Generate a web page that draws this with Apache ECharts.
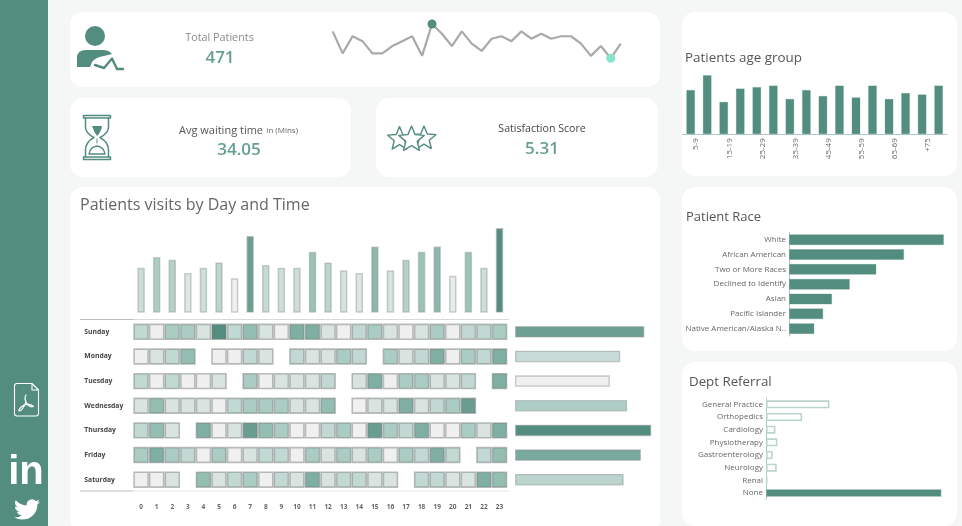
<!DOCTYPE html>
<html><head><meta charset="utf-8">
<style>html,body{margin:0;padding:0;background:#f5f7f6}#c{width:962px;height:526px}#wrap{position:relative;width:962px;height:526px;overflow:hidden}#icons{position:absolute;left:0;top:0;pointer-events:none}</style>
<script src="https://cdn.jsdelivr.net/npm/echarts@6/dist/echarts.min.js"></script>
</head><body><div id="wrap"><div id="c"></div>
<svg id="icons" width="962" height="526" viewBox="0 0 962 526" fill="none" stroke-linejoin="round" stroke-linecap="round">
  <circle cx="95" cy="36" r="10" fill="#538d7f"/>
  <path d="M77 67 L77 58 Q77 50 86 50 L103 50 Q109 50 112 54 L104 56 Q96 57 92 62 L90 67 Z" fill="#538d7f"/>
  <path d="M95 65 L104 68 L112 58.5 L117 69 L123 69" stroke="#538d7f" stroke-width="2.4"/>
  <path d="M83.5 115.5 L110.5 115.5 L110.5 118 L83.5 118 Z M83.5 157 L110.5 157 L110.5 159.5 L83.5 159.5 Z" stroke="#538d7f" stroke-width="1.5"/>
  <path d="M85.5 118 L85.5 127 Q85.5 133 94 137.5 Q85.5 142 85.5 150 L85.5 157 M108.5 118 L108.5 127 Q108.5 133 100 137.5 Q108.5 142 108.5 150 L108.5 157" stroke="#538d7f" stroke-width="1.5"/>
  <path d="M92 126 L102 126 Q101 132 97 136 Q94 132 92 126 Z" fill="#538d7f"/>
  <path d="M89 154 Q90 147 97 146 Q104 147 105 154 Z" stroke="#538d7f" stroke-width="1.4"/>
  <path d="M97 139 L97 143" stroke="#538d7f"/>
  <path d="M17 383.5 L32 383.5 L38.5 390 L38.5 413.5 Q38.5 416 36 416 L17 416 Q14.5 416 14.5 413.5 L14.5 386 Q14.5 383.5 17 383.5 Z M32 383.5 L32 390 L38.5 390" stroke="#fff" stroke-width="1.1"/>
  <path d="M26 395 Q24 398 26 402 Q29 408 33.5 406.5 Q30 403 24 405 Q18.5 408.5 19 411 Q22 411.5 26 402" stroke="#fff" stroke-width="1.2"/>
  <path transform="translate(14 497) scale(1.083 1.04)" fill="#fff" d="M23.953 4.57a10 10 0 01-2.825.775 4.958 4.958 0 002.163-2.723c-.951.555-2.005.959-3.127 1.184a4.92 4.92 0 00-8.384 4.482C7.69 8.095 4.067 6.13 1.64 3.162a4.822 4.822 0 00-.666 2.475c0 1.71.87 3.213 2.188 4.096a4.904 4.904 0 01-2.228-.616v.06a4.923 4.923 0 003.946 4.827 4.996 4.996 0 01-2.212.085 4.936 4.936 0 004.604 3.417 9.867 9.867 0 01-6.102 2.105c-.39 0-.779-.023-1.17-.067a13.995 13.995 0 007.557 2.209c9.053 0 13.998-7.496 13.998-13.985 0-.21 0-.42-.015-.63A9.935 9.935 0 0024 4.59z"/>
</svg></div>
<script>
const hours = ['0','1','2','3','4','5','6','7','8','9','10','11','12','13','14','15','16','17','18','19','20','21','22','23'];
const days = ['Sunday','Monday','Tuesday','Wednesday','Thursday','Friday','Saturday'];
const hourTotals = [17,21,20,15,17,19,13,29,18,17,17,23,19,16,15,25,16,20,23,25,14,23,17,32];
const dayTotals = [75,61,55,65,79,73,63];
const sunday    = [3,1,4,4,2,8,3,5,2,1,6,6,2,1,3,4,2,1,2,4,1,3,3,4];
const monday    = [1,2,3,5,0,1,1,3,2,0,3,2,2,4,3,0,4,2,3,6,1,4,3,6];
const tuesday   = [3,1,3,1,1,2,0,4,1,2,2,2,3,0,2,6,1,4,4,2,2,3,0,6];
const wednesday = [2,5,2,2,2,1,3,4,4,4,2,2,5,0,1,2,2,6,2,3,4,7,0,0];
const thursday  = [3,5,2,0,6,1,2,7,5,4,1,1,3,4,1,7,4,3,6,1,1,4,2,6];
const friday    = [4,6,4,3,1,4,1,2,3,3,1,4,2,4,2,4,1,4,3,6,3,0,3,5];
const saturday  = [1,1,2,0,5,2,3,4,1,3,2,6,2,3,3,2,2,0,3,3,2,2,6,5];
const dailyPatients = [20,11,18,16,11,11,14,16,18,10,23,19,14,20,15,12,17,18,16,20,17,19,17,18,18,15,10,14,9,15];
const ageGroups = ['5-9','10-14','15-19','20-24','25-29','30-34','35-39','40-44','45-49','50-54','55-59','60-64','65-69','70-74','+75','+80'];
const ageValues = [30,40,22,31,32,33,24,30,26,33,25,33,24,28,27,33];
const races = ['White','African American','Two or More Races','Declined to Identify','Asian','Pacific Islander','Native American/Alaska N..'];
const raceValues = [140,104,79,55,39,31,23];
const depts = ['General Practice','Orthopedics','Cardiology','Physiotherapy','Gastroenterology','Neurology','Renal','None'];
const deptValues = [95,54,14,17,10,16,2,263];

const GREEN = '#538d7f', KPI = '#659f90', FONT = '"Open Sans", Lato, sans-serif';
const heatRows = [sunday,monday,tuesday,wednesday,thursday,friday,saturday];
const heatData = [];
heatRows.forEach((row,d)=>row.forEach((v,h)=>{ if(v>0) heatData.push([h,d,v]); }));

function card(x,y,w,h){return {type:'rect',z:0,shape:{x,y,width:w,height:h,r:13},style:{fill:'#fff'},silent:true};}
function txt(x,y,text,size,fill,opt){return {type:'text',z:5,x,y,style:Object.assign({text,font:(opt&&opt.weight||'normal')+' '+size+'px '+FONT,fill,align:'center',verticalAlign:'middle'},opt&&opt.style||{})};}
function star(cx,cy,R,fill){
  const pts=[];for(let i=0;i<10;i++){const r=i%2?R*0.45:R,a=-Math.PI/2+i*Math.PI/5;pts.push([cx+r*Math.cos(a),cy+r*Math.sin(a)]);}
  return {type:'polygon',z:5,shape:{points:pts},style:{fill,stroke:GREEN,lineWidth:1.4,lineJoin:'round'}};
}
const hr=(x1,x2,y,c)=>({type:'line',z:3,shape:{x1,y1:y,x2,y2:y},style:{stroke:c,lineWidth:1.2}});

const graphic=[
  {type:'rect',z:0,shape:{x:0,y:0,width:48,height:526},style:{fill:GREEN}},
  card(70,12,590,75),card(70,98,281,79),card(376,98,282,79),card(70,187,590,345),
  card(682,12,275,164),card(682,187,275,164),card(682,362,275,164),
  star(399.5,139,12.4,'#fff'),star(424,138.5,12.4,'#fff'),star(411.5,139.5,13.4,'#fff'),
  {type:'text',z:5,x:26,y:473,style:{text:'in',font:'bold 40px "Liberation Sans"',fill:'#fff',align:'center',verticalAlign:'middle'}},
  txt(219.5,38,'Total Patients',10.8,'#8a8a8a'),
  txt(220,58,'471',17,KPI,{weight:'600'}),
  {type:'text',z:5,x:179,y:130.5,style:{rich:{a:{font:'normal 11px '+FONT,fill:'#555'},b:{font:'8px '+FONT,fill:'#666'}},text:'{a|Avg waiting time} {b|in (Mins)}',verticalAlign:'middle'}},
  txt(239,150,'34.05',17,KPI,{weight:'600'}),
  txt(542,129,'Satisfaction Score',10.6,'#444'),
  txt(542,149,'5.31',17,KPI,{weight:'600'}),
  txt(80,205.5,'Patients visits by Day and Time',16,'#666',{style:{align:'left'}}),
  txt(685,58,'Patients age group',13.4,'#555',{style:{align:'left'}}),
  txt(686,217,'Patient Race',13,'#555',{style:{align:'left'}}),
  txt(689,382,'Dept Referral',13.3,'#555',{style:{align:'left'}}),
  hr(80,133,319.5,'#bdbdbd'),hr(133,509,319.5,'#d9d9d9'),
  hr(80,133,491,'#bdbdbd'),hr(133,509,491,'#e6e6e6')
];

const catBase={axisTick:{show:false},axisLine:{show:false},splitLine:{show:false}};
const smallLabel={fontFamily:FONT,fontSize:8,color:'#666'};

const option={
  animation:false,
  backgroundColor:'#f5f7f6',
  graphic:{elements:graphic},
  grid:[
    {left:332.7,top:24,width:288,height:34.3},
    {left:133.3,top:228,width:374,height:84.7},
    {left:133.3,top:319.5,width:374,height:172.5},
    {left:515,top:319.5,width:138,height:172.5},
    {left:682.4,top:75,width:264.5,height:59.3},
    {left:789,top:232.3,width:155,height:103.8},
    {left:766,top:398,width:175.7,height:101.3}
  ],
  xAxis:[
    {gridIndex:0,type:'category',data:dailyPatients.map((_,i)=>String(i+1)),boundaryGap:false,show:false},
    {gridIndex:1,type:'category',data:hours,show:false},
    {gridIndex:2,type:'category',data:hours,...catBase,axisLabel:{interval:0,margin:12,fontFamily:FONT,fontSize:6.5,fontWeight:'bold',color:'#666'}},
    {gridIndex:3,type:'value',min:0,max:80,show:false},
    {gridIndex:4,type:'category',data:ageGroups,axisTick:{show:false},axisLine:{lineStyle:{color:'#a9cbc2',width:1}},axisLabel:{interval:1,rotate:90,margin:4,verticalAlign:'top',lineHeight:11,fontFamily:FONT,fontSize:8,color:'#666'}},
    {gridIndex:5,type:'value',min:0,max:140,show:false},
    {gridIndex:6,type:'value',min:0,max:263,show:false}
  ],
  yAxis:[
    {gridIndex:0,type:'value',min:9,max:23,show:false},
    {gridIndex:1,type:'value',min:0,max:32,show:false},
    {gridIndex:2,type:'category',data:days,inverse:true,...catBase,axisLabel:{interval:0,align:'left',margin:49,fontFamily:FONT,fontSize:6.8,fontWeight:'bold',color:'#444'}},
    {gridIndex:3,type:'category',data:days,inverse:true,show:false},
    {gridIndex:4,type:'value',min:0,max:40,show:false},
    {gridIndex:5,type:'category',data:races,inverse:true,axisTick:{show:false},axisLine:{lineStyle:{color:'#a9cbc2'}},axisLabel:{...smallLabel,interval:0,margin:3}},
    {gridIndex:6,type:'category',data:depts,inverse:true,axisTick:{show:false},axisLine:{lineStyle:{color:'#a9cbc2'}},axisLabel:{...smallLabel,interval:0,margin:3}}
  ],
  visualMap:[
    {show:false,type:'continuous',seriesIndex:1,min:13,max:32,inRange:{color:['#f0f0f0','#a0c6bc',GREEN]}},
    {show:false,type:'continuous',seriesIndex:2,dimension:2,min:1,max:8,inRange:{color:['#f0f0f0','#a0c6bc',GREEN]}},
    {show:false,type:'continuous',seriesIndex:3,dimension:0,min:55,max:79,inRange:{color:['#f0f0f0','#a0c6bc',GREEN]}}
  ],
  series:[
    {type:'line',xAxisIndex:0,yAxisIndex:0,data:dailyPatients,showSymbol:false,silent:true,lineStyle:{color:'#a9a9a9',width:2.2},
      markPoint:{symbol:'circle',symbolSize:9,label:{show:false},data:[{type:'max',itemStyle:{color:GREEN}},{type:'min',itemStyle:{color:'#85e3d0'}}]}},
    {type:'bar',xAxisIndex:1,yAxisIndex:1,data:hourTotals,barWidth:7.5,itemStyle:{borderColor:'rgba(140,150,147,.45)',borderWidth:1.5}},
    {type:'scatter',xAxisIndex:2,yAxisIndex:2,data:heatData,symbol:'rect',symbolSize:[14,14.8],itemStyle:{opacity:1,borderColor:'rgba(120,125,123,.5)',borderWidth:1.6}},
    {type:'bar',xAxisIndex:3,yAxisIndex:3,data:dayTotals,barWidth:11.5,itemStyle:{borderColor:'rgba(140,150,147,.5)',borderWidth:1.3}},
    {type:'bar',xAxisIndex:4,yAxisIndex:4,data:ageValues,barWidth:9,itemStyle:{color:GREEN,borderColor:'rgba(83,141,127,.25)',borderWidth:1}},
    {type:'bar',xAxisIndex:5,yAxisIndex:5,data:raceValues,barWidth:11,itemStyle:{color:GREEN,borderColor:'rgba(83,141,127,.3)',borderWidth:1}},
    {type:'bar',xAxisIndex:6,yAxisIndex:6,data:deptValues.map(v=>v>=200?{value:v,itemStyle:{color:GREEN,borderColor:'rgba(83,141,127,.3)'}}:v),barWidth:8,itemStyle:{color:'#fff',borderColor:'#b9d5cd',borderWidth:1.6}}
  ]
};
echarts.init(document.getElementById('c'),null,{renderer:'canvas'}).setOption(option);
</script></body></html>
